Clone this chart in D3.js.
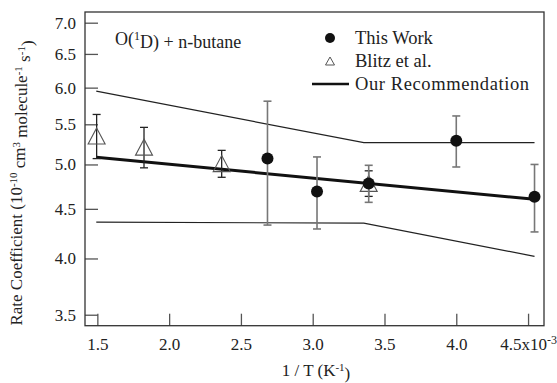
<!DOCTYPE html>
<html>
<head>
<meta charset="utf-8">
<script src="https://cdn.jsdelivr.net/npm/d3@7"></script>
<style>
  html, body { margin: 0; padding: 0; background: #fff; }
  svg { display: block; }
  svg text { font-family: "Liberation Serif", "DejaVu Serif", serif; }
</style>
</head>
<body>
<svg id="chart" width="557" height="383"></svg>
<script>
// O(1D) + n-butane rate coefficients, in units of 1e-10 cm3 molecule-1 s-1, vs 1/T (1e-3 K-1)
const thisWorkX   = [2.685, 3.03, 3.39, 4.0, 4.545];
const thisWorkK   = [5.07, 4.69, 4.78, 5.29, 4.63];
const thisWorkErr = [0.74, 0.40, 0.21, 0.32, 0.37];

const blitzX   = [1.495, 1.825, 2.366, 3.39];
const blitzK   = [5.35, 5.21, 5.01, 4.78];
const blitzErr = [0.28, 0.25, 0.16, 0.145];

// recommended expression and its uncertainty envelope
const recX   = [1.4925, 4.545];
const recK   = [5.086, 4.603];
const boundX = [1.4925, 3.356, 4.545];
const upperK = [5.95, 5.265, 5.265];
const lowerK = [4.36, 4.35, 4.02];

const xTicks = [1.5, 2.0, 2.5, 3.0, 3.5, 4.0, 4.5];
const yTicks = [3.5, 4.0, 4.5, 5.0, 5.5, 6.0, 6.5, 7.0];

const svg = d3.select("#chart");
const plotLeft = 85, plotRight = 544, plotTop = 12, plotBottom = 325.7;

const x = d3.scaleLinear().domain([1.414, 4.611]).range([plotLeft, plotRight]);
const y = d3.scaleLog().domain([3.41, 7.18]).range([plotBottom, plotTop]);

// axes with inward ticks
const xAxis = svg.append("g")
  .attr("transform", `translate(0,${plotBottom})`)
  .call(d3.axisBottom(x).tickValues(xTicks).tickFormat(d3.format(".1f"))
        .tickSizeInner(-12).tickSizeOuter(0).tickPadding(12));
const yAxis = svg.append("g")
  .attr("transform", `translate(${plotLeft},0)`)
  .call(d3.axisLeft(y).tickValues(yTicks).tickFormat(d3.format(".1f"))
        .tickSizeInner(-13).tickSizeOuter(0).tickPadding(9));

[xAxis, yAxis].forEach(g => {
  g.attr("font-family", null);
  g.select(".domain").remove();
  g.selectAll(".tick line").attr("stroke", "#555").attr("stroke-width", 1.3);
  g.selectAll(".tick text").attr("fill", "#222").style("font-size", "17px");
});

// last x label carries the multiplier
xAxis.selectAll(".tick text").filter(d => d === 4.5).each(function () {
  const t = d3.select(this).text("");
  t.append("tspan").text("4.5x10");
  t.append("tspan").attr("dy", "-0.45em").style("font-size", "12px").text("-3");
});

// frame
svg.append("rect")
  .attr("x", plotLeft).attr("y", plotTop)
  .attr("width", plotRight - plotLeft).attr("height", plotBottom - plotTop)
  .attr("fill", "none").attr("stroke", "#333").attr("stroke-width", 1.3);

const line = d3.line().x(d => x(d[0])).y(d => y(d[1]));

// uncertainty envelope
[upperK, lowerK].forEach(k => {
  svg.append("path")
    .attr("d", line(boundX.map((v, i) => [v, k[i]])))
    .attr("fill", "none").attr("stroke", "#222").attr("stroke-width", 1.2);
});

// recommendation
svg.append("path")
  .attr("d", line(recX.map((v, i) => [v, recK[i]])))
  .attr("fill", "none").attr("stroke", "#111").attr("stroke-width", 3);

function errorBars(xs, ks, es, color, width) {
  const g = svg.append("g").attr("stroke", color).attr("stroke-width", width).attr("fill", "none");
  xs.forEach((xv, i) => {
    const px = x(xv), y1 = y(ks[i] + es[i]), y2 = y(ks[i] - es[i]);
    g.append("line").attr("x1", px).attr("x2", px).attr("y1", y1).attr("y2", y2);
    g.append("line").attr("x1", px - 4).attr("x2", px + 4).attr("y1", y1).attr("y2", y1);
    g.append("line").attr("x1", px - 4).attr("x2", px + 4).attr("y1", y2).attr("y2", y2);
  });
}

function triangle(cx, cy, w, h) {
  return `M${cx},${cy - h / 2}L${cx + w / 2},${cy + h / 2}L${cx - w / 2},${cy + h / 2}Z`;
}

// Blitz et al.
errorBars(blitzX, blitzK, blitzErr, "#222", 1.3);
svg.append("g").selectAll("path").data(blitzX).join("path")
  .attr("d", (d, i) => triangle(x(d), y(blitzK[i]), 17, 16))
  .attr("fill", "none").attr("stroke", "#555").attr("stroke-width", 1.1);

// this work
errorBars(thisWorkX, thisWorkK, thisWorkErr, "#777", 1.6);
svg.append("g").selectAll("circle").data(thisWorkX).join("circle")
  .attr("cx", d => x(d)).attr("cy", (d, i) => y(thisWorkK[i]))
  .attr("r", 6).attr("fill", "#111");

// reaction label
const ann = svg.append("text").attr("x", 115).attr("y", 45)
  .style("font-size", "18px").attr("fill", "#222");
ann.append("tspan").text("O(");
ann.append("tspan").attr("dy", "-0.45em").style("font-size", "12px").text("1");
ann.append("tspan").attr("dy", "0.45em").text("D) + n-butane");

// legend
const lg = svg.append("g").style("font-size", "18.5px").attr("fill", "#222");
lg.append("circle").attr("cx", 330).attr("cy", 38).attr("r", 5).attr("fill", "#111");
lg.append("text").attr("x", 355).attr("y", 44).text("This Work");
lg.append("path").attr("d", triangle(330, 61, 9, 8))
  .attr("fill", "none").attr("stroke", "#555").attr("stroke-width", 1);
lg.append("text").attr("x", 355).attr("y", 67).text("Blitz et al.");
lg.append("line").attr("x1", 312).attr("x2", 349).attr("y1", 84).attr("y2", 84)
  .attr("stroke", "#111").attr("stroke-width", 2.5);
lg.append("text").attr("x", 355).attr("y", 90).style("letter-spacing", "0.6px")
  .text("Our Recommendation");

// axis titles
const xt = svg.append("text").attr("x", 316).attr("y", 376)
  .attr("text-anchor", "middle").style("font-size", "17px").attr("fill", "#222");
xt.append("tspan").text("1 / T (K");
xt.append("tspan").attr("dy", "-0.45em").style("font-size", "11px").text("-1");
xt.append("tspan").attr("dy", "0.45em").text(")");

const yt = svg.append("text")
  .attr("transform", "translate(22,183) rotate(-90)")
  .attr("text-anchor", "middle").style("font-size", "17px").attr("fill", "#222");
yt.append("tspan").text("Rate Coefficient (10");
yt.append("tspan").attr("dy", "-0.45em").style("font-size", "11px").text("-10");
yt.append("tspan").attr("dy", "0.45em").text(" cm");
yt.append("tspan").attr("dy", "-0.45em").style("font-size", "11px").text("3");
yt.append("tspan").attr("dy", "0.45em").text(" molecule");
yt.append("tspan").attr("dy", "-0.45em").style("font-size", "11px").text("-1");
yt.append("tspan").attr("dy", "0.45em").text(" s");
yt.append("tspan").attr("dy", "-0.45em").style("font-size", "11px").text("-1");
yt.append("tspan").attr("dy", "0.45em").text(")");
</script>
</body>
</html>
